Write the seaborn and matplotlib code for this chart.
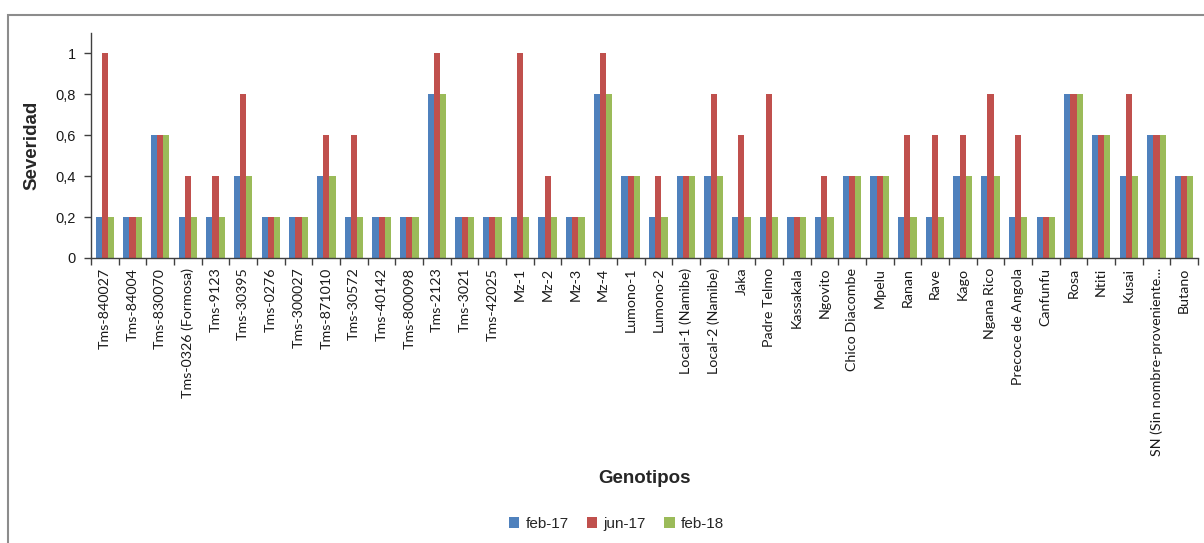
import matplotlib
matplotlib.use("Agg")
import matplotlib.pyplot as plt
from matplotlib.patches import Rectangle
from matplotlib.ticker import FixedLocator, FuncFormatter
import seaborn as sns
import pandas as pd
import numpy as np

genotipos = [
    "Tms-840027", "Tms-84004", "Tms-830070", "Tms-0326 (Formosa)", "Tms-9123",
    "Tms-30395", "Tms-0276", "Tms-300027", "Tms-871010", "Tms-30572",
    "Tms-40142", "Tms-800098", "Tms-2123", "Tms-3021", "Tms-42025",
    "Mz-1", "Mz-2", "Mz-3", "Mz-4", "Lumono-1",
    "Lumono-2", "Local-1 (Namibe)", "Local-2 (Namibe)", "Jaka", "Padre Telmo",
    "Kassakala", "Ngovito", "Chico Diacombe", "Mpelu", "Ranan",
    "Rave", "Kago", "Ngana Rico", "Precoce de Angola", "Canfunfu",
    "Rosa", "Ntiti", "Kusai", "SN (Sin nombre-proveniente...", "Butano",
]
feb_17 = [0.2, 0.2, 0.6, 0.2, 0.2, 0.4, 0.2, 0.2, 0.4, 0.2,
          0.2, 0.2, 0.8, 0.2, 0.2, 0.2, 0.2, 0.2, 0.8, 0.4,
          0.2, 0.4, 0.4, 0.2, 0.2, 0.2, 0.2, 0.4, 0.4, 0.2,
          0.2, 0.4, 0.4, 0.2, 0.2, 0.8, 0.6, 0.4, 0.6, 0.4]
jun_17 = [1.0, 0.2, 0.6, 0.4, 0.4, 0.8, 0.2, 0.2, 0.6, 0.6,
          0.2, 0.2, 1.0, 0.2, 0.2, 1.0, 0.4, 0.2, 1.0, 0.4,
          0.4, 0.4, 0.8, 0.6, 0.8, 0.2, 0.4, 0.4, 0.4, 0.6,
          0.6, 0.6, 0.8, 0.6, 0.2, 0.8, 0.6, 0.8, 0.6, 0.4]
feb_18 = [0.2, 0.2, 0.6, 0.2, 0.2, 0.4, 0.2, 0.2, 0.4, 0.2,
          0.2, 0.2, 0.8, 0.2, 0.2, 0.2, 0.2, 0.2, 0.8, 0.4,
          0.2, 0.4, 0.4, 0.2, 0.2, 0.2, 0.2, 0.4, 0.4, 0.2,
          0.2, 0.4, 0.4, 0.2, 0.2, 0.8, 0.6, 0.4, 0.6, 0.4]
fechas = ["feb-17", "jun-17", "feb-18"]
colores = ["#4F81BD", "#C0504D", "#9BBB59"]
y_ticks = [0, 0.2, 0.4, 0.6, 0.8, 1.0]

df = pd.DataFrame({
    "Genotipo": genotipos * 3,
    "Severidad": feb_17 + jun_17 + feb_18,
    "Fecha": [f for f in fechas for _ in genotipos],
})

sns.set_style("white")
plt.rcParams["font.family"] = ["Liberation Sans", "DejaVu Sans"]

fig = plt.figure(figsize=(12.04, 5.43), dpi=100)
ax = fig.add_axes([0.0756, 0.5249, 0.9194, 0.4144])

sns.barplot(data=df, x="Genotipo", y="Severidad", hue="Fecha",
            palette=colores, hue_order=fechas, order=genotipos,
            width=0.67, saturation=1, ax=ax, legend=True,
            edgecolor="none", linewidth=0)

ax.set_xlim(-0.5, len(genotipos) - 0.5)
ax.set_ylim(0, 1.1)
ax.yaxis.set_major_locator(FixedLocator(y_ticks))
ax.yaxis.set_major_formatter(FuncFormatter(
    lambda v, p: "0" if v == 0 else ("1" if abs(v - 1) < 1e-9 else f"{v:.1f}".replace(".", ","))))
ax.tick_params(axis="y", direction="out", length=5, width=1, color="#404040",
               labelsize=10.5, labelcolor="#1a1a1a", pad=6, left=True)

# category labels centred, tick marks between categories
ax.set_xticks(range(len(genotipos)))
ax.set_xticklabels(genotipos, rotation=90, fontfamily=["Lato", "DejaVu Sans"],
                   fontsize=10.3, color="#1a1a1a")
ax.tick_params(axis="x", which="major", length=0, pad=7)
ax.set_xticks(np.arange(-0.5, len(genotipos)), minor=True)
ax.tick_params(axis="x", which="minor", direction="out", length=5, width=1,
               color="#404040", bottom=True)

for side in ("top", "right"):
    ax.spines[side].set_visible(False)
for side in ("left", "bottom"):
    ax.spines[side].set_color("#404040")
    ax.spines[side].set_linewidth(1)
ax.grid(False)

ax.set_ylabel("Severidad", fontsize=13.5, fontweight="bold")
ax.yaxis.set_label_coords(-0.046, 0.5)
ax.set_xlabel("")
fig.text(0.535, 0.118, "Genotipos", ha="center", va="center",
         fontsize=13.5, fontweight="bold")

handles, labels = ax.get_legend_handles_labels()
ax.legend_.remove()
fig.legend(handles, labels, loc="center", bbox_to_anchor=(0.512, 0.035),
           ncol=3, frameon=False, fontsize=11, handlelength=0.7,
           handleheight=0.7, handletextpad=0.4, columnspacing=1.2)

# chart area frame
fig.patches.append(Rectangle((8 / 1204, -0.05), 1.2, 1 - 15 / 543 + 0.05,
                             transform=fig.transFigure, fill=False,
                             edgecolor="#8c8c8c", linewidth=1.5))

fig.savefig("out.png", dpi=100)
